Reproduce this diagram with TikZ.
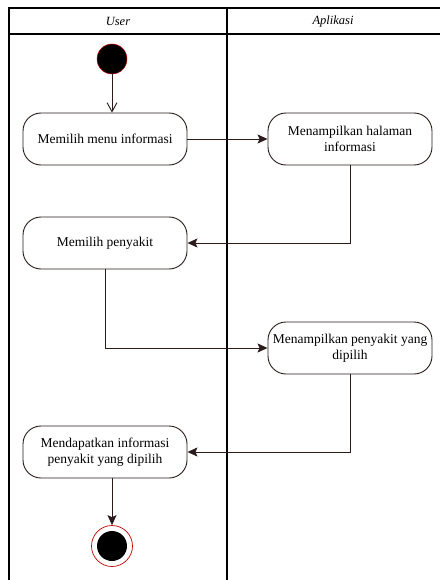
\documentclass[tikz,border=0pt]{standalone}
\usepackage{fontspec}
\setmainfont{Liberation Serif}
\usetikzlibrary{arrows.meta}
\definecolor{edgedark}{HTML}{2B1B1B}
\tikzset{
    lane/.style={draw=black, line width=1.1pt},
    lanetitle/.style={font=\itshape\fontsize{12.5}{14}\selectfont},
    activity/.style={draw=edgedark, rounded corners=18pt, line width=0.9pt,
        minimum width=164pt, minimum height=52pt, align=center,
        font=\fontsize{13.5}{16}\selectfont, inner sep=1pt},
    startstate/.style={circle, fill=black, draw=red!80!black, line width=0.5pt,
        minimum size=30pt, inner sep=0pt},
    endring/.style={circle, draw=red!75!black, line width=0.7pt,
        minimum size=41pt, inner sep=0pt},
    endcore/.style={circle, fill=black, minimum size=30pt, inner sep=0pt},
    flow/.style={draw=edgedark, line width=0.9pt, -{Stealth[length=10pt,width=9pt,inset=2pt]}},
    firstflow/.style={draw=edgedark, line width=0.9pt, -{Straight Barb[length=9pt,width=10pt]}}
}
\begin{document}
\begin{tikzpicture}[x=1pt,y=1pt]
	\useasboundingbox (0,0) rectangle (440,-580);
	% swimlanes
	\draw[lane] (440,-8) -- (9,-8) -- (9,-580);
	\draw[lane] (9,-34) -- (440,-34);
	\draw[lane] (227,-8) -- (227,-580);
	\node[lanetitle] (userlane) at (118,-21) {User};
	\node[lanetitle] (applane) at (333,-21) {Aplikasi};
	% states
	\node[startstate] (start) at (112,-59) {};
	\node[activity] (menu) at (105,-139) {Memilih menu informasi};
	\node[activity] (halaman) at (350,-139) {Menampilkan halaman\\informasi};
	\node[activity] (pilih) at (105,-243) {Memilih penyakit};
	\node[activity] (tampil) at (350,-348) {Menampilkan penyakit yang\\dipilih};
	\node[activity] (dapat) at (105,-452) {Mendapatkan informasi\\penyakit yang dipilih};
	\node[endring] (finish) at (112,-546) {};
	\node[endcore] (finishcore) at (finish) {};
	% transitions
	\draw[firstflow] (start) -- (start |- menu.north);
	\draw[flow] (menu) -- (halaman);
	\draw[flow] (halaman.south) |- (pilih.east);
	\draw[flow] (pilih.south) |- (tampil.west);
	\draw[flow] (tampil.south) |- (dapat.east);
	\draw[flow] (dapat.south -| finish) -- (finish);
\end{tikzpicture}
\end{document}
